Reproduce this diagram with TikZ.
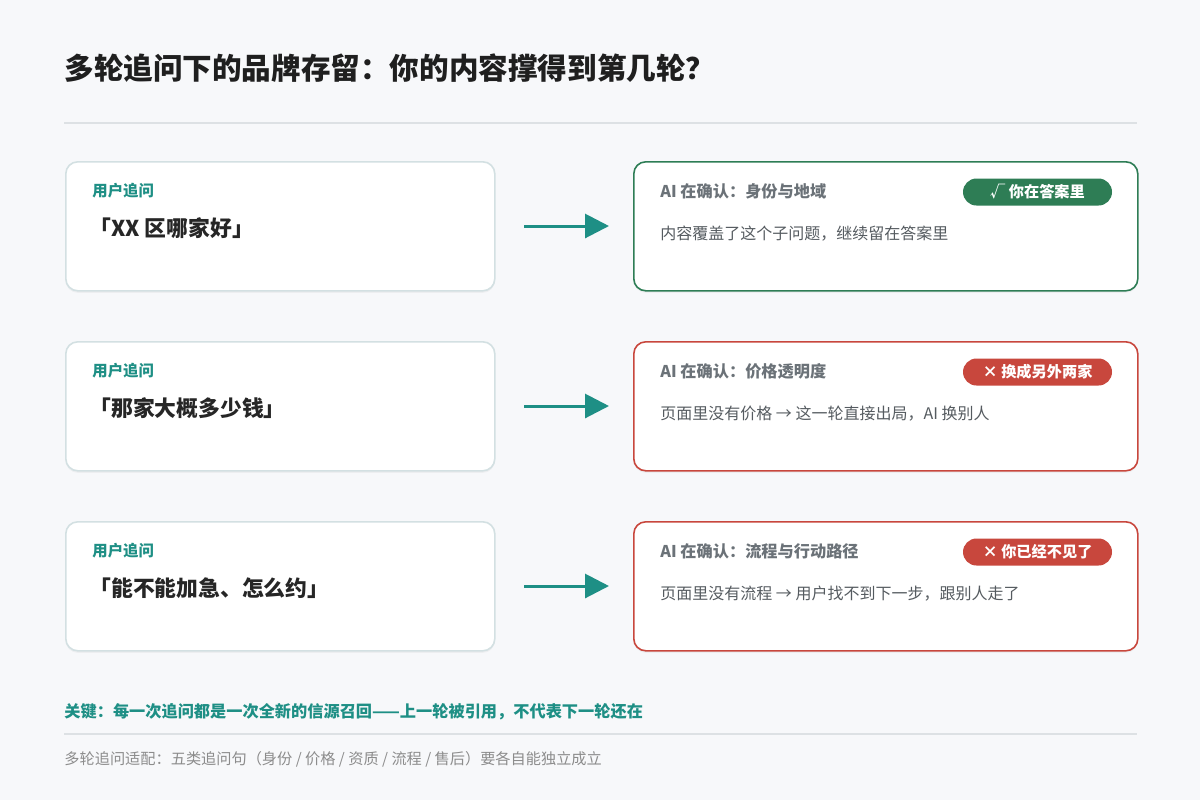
\documentclass[tikz,border=0pt]{standalone}
\usepackage{fontspec}
\setmainfont{Noto Sans CJK SC}
\usetikzlibrary{arrows.meta,shadows}
\definecolor{bg}{HTML}{F7F8FA}
\definecolor{teal}{HTML}{1E8F85}
\definecolor{gok}{HTML}{2E7D55}
\definecolor{rbad}{HTML}{C8473D}
\definecolor{lbord}{HTML}{D3E0E2}
\definecolor{sep}{HTML}{DDE1E4}
\definecolor{tgray}{HTML}{6B7278}
\definecolor{dgray}{HTML}{555B60}
\begin{document}
\begin{tikzpicture}[x=0.5pt,y=-0.5pt,
  lbox/.style={draw=lbord,line width=0.8pt,fill=white,rounded corners=6pt,drop shadow={opacity=0.08,shadow xshift=0pt,shadow yshift=-1pt}},
  rbox/.style={draw=#1,line width=0.8pt,fill=white,rounded corners=6pt,drop shadow={opacity=0.08,shadow xshift=0pt,shadow yshift=-1pt}},
  ask/.style={anchor=west,text=teal,font=\bfseries\fontsize{7.7}{9}\selectfont,inner sep=0pt},
  quote/.style={anchor=west,text=black!85,font=\bfseries\fontsize{10.9}{12}\selectfont,inner sep=0pt},
  conf/.style={anchor=west,text=tgray,font=\bfseries\fontsize{8.1}{9}\selectfont,inner sep=0pt},
  desc/.style={anchor=west,text=dgray,font=\fontsize{8}{9}\selectfont,inner sep=0pt},
  badge/.style={fill=#1,rounded corners=6.75pt,text=white,font=\bfseries\fontsize{7.6}{9}\selectfont,minimum width=74.5pt,minimum height=13.5pt,inner sep=0pt},
  arr/.style={draw=teal,line width=1.5pt,-{Triangle[length=12pt,width=12pt]}}]
\fill[bg] (0,0) rectangle (1200,800);
\node[anchor=west,inner sep=0pt,text=black!88,font=\bfseries\fontsize{14.8}{16}\selectfont] (title) at (64,68) {多轮追问下的品牌存留：你的内容撑得到第几轮？};
\draw[sep,line width=0.8pt] (64,123) -- (1137,123);
\foreach \i/\y/\q/\c/\col/\b/\d in {
 1/161/「XX 区哪家好」/身份与地域/gok/√ 你在答案里/内容覆盖了这个子问题，继续留在答案里,
 2/341/「那家大概多少钱」/价格透明度/rbad/× 换成另外两家/页面里没有价格 → 这一轮直接出局，AI 换别人,
 3/521/「能不能加急、怎么约」/流程与行动路径/rbad/× 你已经不见了/页面里没有流程 → 用户找不到下一步，跟别人走了}{
  \node[lbox,minimum width=214.5pt,minimum height=64.5pt,anchor=north west] (L\i) at (65,\y) {};
  \node[ask] (a\i) at (92,\y+30) {用户追问};
  \node[quote] (q\i) at (89,\y+67) {\q};
  \node[rbox=\col,minimum width=252pt,minimum height=64.5pt,anchor=north west] (R\i) at (633,\y) {};
  \node[conf] (c\i) at (660,\y+30) {AI 在确认：\c};
  \node[badge=\col] (b\i) at (1037.5,\y+31) {\b};
  \node[desc] (d\i) at (660,\y+73) {\d};
  \coordinate (s\i) at (524,\y+65);
  \coordinate (e\i) at (609,\y+65);
  \draw[arr] (s\i) -- (e\i);
}
\node[anchor=west,inner sep=0pt,text=teal,font=\bfseries\fontsize{8.1}{9}\selectfont] (key) at (64,712) {关键：每一次追问都是一次全新的信源召回——上一轮被引用，不代表下一轮还在};
\draw[sep,line width=0.8pt] (64,734) -- (1137,734);
\node[anchor=west,inner sep=0pt,text=black!45,font=\fontsize{7.6}{9}\selectfont] (foot) at (64,759) {多轮追问适配：五类追问句（身份 / 价格 / 资质 / 流程 / 售后）要各自能独立成立};
\end{tikzpicture}
\end{document}
